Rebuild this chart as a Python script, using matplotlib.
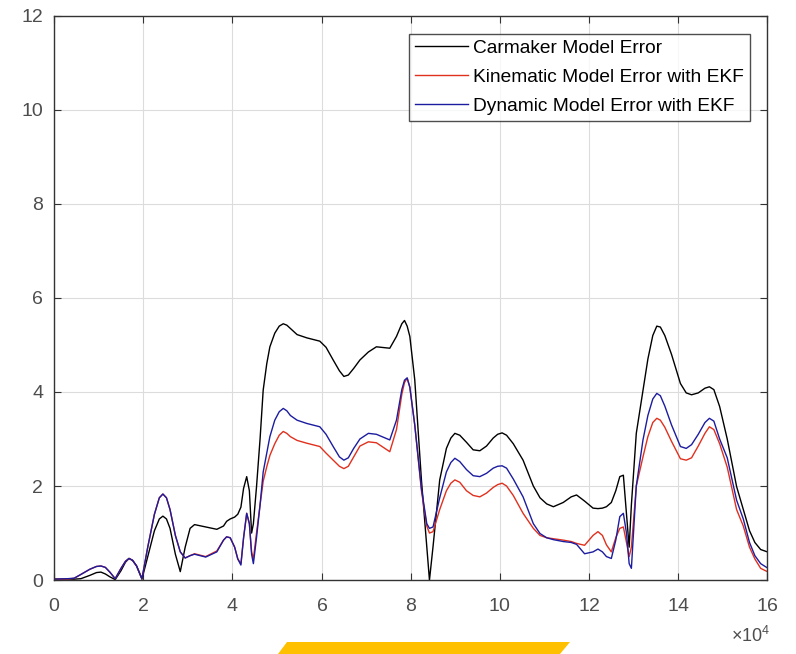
import numpy as np
import matplotlib.pyplot as plt
from matplotlib.patches import Polygon

plt.rcParams['font.family'] = ['Liberation Sans', 'DejaVu Sans']
plt.rcParams['mathtext.fontset'] = 'custom'
plt.rcParams['mathtext.rm'] = 'Liberation Sans'

# sample positions (in units of 1e4) and error values
x = [0.0, 0.3, 0.45, 0.6, 0.8, 0.95, 1.05, 1.15, 1.25, 1.37, 1.5, 1.6, 1.68,
     1.76, 1.85, 1.97, 2.1, 2.25, 2.36, 2.44, 2.52, 2.6, 2.72, 2.83, 2.94,
     3.05, 3.15, 3.4, 3.65, 3.8, 3.87, 3.95, 4.05, 4.12, 4.19, 4.25, 4.32,
     4.38, 4.43, 4.47, 4.54, 4.62, 4.69, 4.77, 4.84, 4.95, 5.05, 5.14, 5.22,
     5.3, 5.45, 5.67, 5.96, 6.1, 6.26, 6.4, 6.5, 6.6, 6.72, 6.86, 7.05, 7.23,
     7.53, 7.68, 7.8, 7.86, 7.92, 7.98, 8.09, 8.24, 8.36, 8.42, 8.5, 8.65,
     8.8, 8.9, 8.99, 9.1, 9.25, 9.4, 9.55, 9.7, 9.85, 9.95, 10.05, 10.15,
     10.3, 10.52, 10.75, 10.9, 11.05, 11.2, 11.42, 11.6, 11.72, 11.9, 12.09,
     12.2, 12.3, 12.39, 12.5, 12.6, 12.69, 12.77, 12.84, 12.9, 12.95, 13.06,
     13.21, 13.32, 13.43, 13.52, 13.6, 13.7, 13.85, 14.05, 14.18, 14.3,
     14.45, 14.6, 14.7, 14.8, 14.93, 15.1, 15.31, 15.46, 15.6, 15.72, 15.85,
     16.0]

carmaker = [0.02, 0.02, 0.02, 0.03, 0.10, 0.16, 0.17, 0.13, 0.07, 0.01, 0.2,
            0.38, 0.46, 0.42, 0.3, 0.02, 0.5, 1.05, 1.3, 1.36, 1.3, 1.1, 0.55,
            0.18, 0.7, 1.1, 1.18, 1.13, 1.08, 1.15, 1.25, 1.3, 1.34, 1.4, 1.55,
            1.95, 2.2, 1.9, 1.0, 1.2, 1.98, 3.0, 4.04, 4.6, 4.96, 5.25, 5.4,
            5.45, 5.42, 5.35, 5.22, 5.15, 5.08, 4.95, 4.68, 4.45, 4.33, 4.36,
            4.5, 4.68, 4.85, 4.96, 4.93, 5.18, 5.45, 5.52, 5.4, 5.18, 4.26,
            2.13, 0.71, 0.0, 0.71, 2.13, 2.8, 3.02, 3.12, 3.08, 2.93, 2.77,
            2.75, 2.85, 3.02, 3.1, 3.13, 3.08, 2.9, 2.55, 2.0, 1.75, 1.62,
            1.56, 1.65, 1.77, 1.81, 1.68, 1.53, 1.52, 1.53, 1.56, 1.65, 1.9,
            2.2, 2.23, 1.4, 0.7, 1.6, 3.12, 4.04, 4.7, 5.2, 5.4, 5.38, 5.2,
            4.8, 4.18, 3.98, 3.94, 3.98, 4.08, 4.11, 4.05, 3.69, 3.0, 1.99,
            1.5, 1.05, 0.8, 0.65, 0.6]

kinematic = [0.02, 0.02, 0.04, 0.12, 0.23, 0.29, 0.30, 0.27, 0.17, 0.03,
             0.25, 0.4, 0.46, 0.42, 0.3, 0.03, 0.7, 1.4, 1.75, 1.83, 1.75,
             1.5, 0.95, 0.6, 0.47, 0.52, 0.56, 0.5, 0.62, 0.85, 0.92, 0.9,
             0.7, 0.45, 0.35, 0.9, 1.42, 1.2, 0.6, 0.45, 1.0, 1.6, 2.1, 2.41,
             2.65, 2.9, 3.08, 3.16, 3.12, 3.05, 2.97, 2.91, 2.84, 2.7, 2.55,
             2.42, 2.37, 2.42, 2.62, 2.85, 2.94, 2.92, 2.73, 3.2, 3.95, 4.2,
             4.29, 4.1, 3.3, 1.9, 1.15, 1.0, 1.03, 1.5, 1.9, 2.06, 2.13, 2.08,
             1.9, 1.8, 1.77, 1.85, 1.97, 2.03, 2.06, 2.0, 1.8, 1.42, 1.1,
             0.95, 0.9, 0.88, 0.85, 0.82, 0.78, 0.74, 0.95, 1.03, 0.95, 0.75,
             0.6, 0.9, 1.1, 1.13, 0.8, 0.5, 0.7, 2.0, 2.62, 3.05, 3.35, 3.44,
             3.4, 3.25, 2.95, 2.58, 2.55, 2.6, 2.85, 3.12, 3.26, 3.2, 2.9,
             2.4, 1.5, 1.15, 0.7, 0.45, 0.25, 0.18]

dynamic = [0.02, 0.03, 0.04, 0.12, 0.23, 0.29, 0.30, 0.27, 0.17, 0.03, 0.25,
           0.4, 0.46, 0.42, 0.3, 0.03, 0.7, 1.4, 1.75, 1.83, 1.75, 1.5, 0.95,
           0.6, 0.47, 0.52, 0.55, 0.49, 0.6, 0.85, 0.92, 0.9, 0.7, 0.45, 0.32,
           0.9, 1.42, 1.2, 0.55, 0.35, 0.9, 1.6, 2.3, 2.7, 3.05, 3.4, 3.58,
           3.65, 3.6, 3.5, 3.4, 3.33, 3.26, 3.1, 2.84, 2.62, 2.55, 2.6, 2.8,
           3.0, 3.12, 3.1, 2.98, 3.4, 4.05, 4.25, 4.3, 4.1, 3.3, 1.95, 1.2,
           1.1, 1.13, 1.75, 2.3, 2.5, 2.59, 2.52, 2.35, 2.22, 2.2, 2.27, 2.38,
           2.42, 2.43, 2.38, 2.15, 1.77, 1.2, 0.99, 0.9, 0.86, 0.82, 0.8, 0.76,
           0.56, 0.6, 0.66, 0.6, 0.5, 0.46, 0.85, 1.35, 1.42, 1.0, 0.35, 0.25,
           2.0, 2.98, 3.5, 3.85, 3.97, 3.92, 3.7, 3.3, 2.84, 2.8, 2.88, 3.1,
           3.35, 3.44, 3.38, 3.0, 2.6, 1.7, 1.3, 0.8, 0.52, 0.35, 0.26]

xs = np.array(x) * 1e4

fig = plt.figure(figsize=(7.96, 6.54), dpi=100)
ax = fig.add_axes([0.068, 0.113, 0.896, 0.863])

ax.plot(xs, carmaker, color='black', lw=1.0, label='Carmaker Model Error')
ax.plot(xs, kinematic, color='#e0301e', lw=1.0, label='Kinematic Model Error with EKF')
ax.plot(xs, dynamic, color='#1c1ca0', lw=1.0, label='Dynamic Model Error with EKF')

ax.set_xlim(0, 16e4)
ax.set_ylim(0, 12)
ax.set_xticks(np.arange(0, 16.1e4, 2e4))
ax.set_yticks(np.arange(0, 13, 2))
ax.ticklabel_format(axis='x', style='sci', scilimits=(4, 4), useMathText=True)
ax.xaxis.get_offset_text().set_visible(False)
fig.text(0.968, 0.012, r'$\times10^{4}$', ha='right', va='bottom',
         fontsize=13, color='#4d4d4d')

ax.grid(True, color='#dcdcdc', lw=0.8)
ax.tick_params(direction='in', top=True, right=True, labelsize=14,
               labelcolor='#4d4d4d', color='#333333', length=5)
ax.tick_params(axis='x', pad=13)
ax.tick_params(axis='y', pad=8)
for s in ax.spines.values():
    s.set_color('#333333')
    s.set_linewidth(1.0)

leg = ax.legend(loc='upper right', bbox_to_anchor=(0.975, 0.968), fontsize=13.8,
                frameon=True, fancybox=False, edgecolor='#222222',
                handlelength=2.75, handletextpad=0.3, borderaxespad=0,
                labelspacing=0.62, borderpad=0.28)
leg.get_frame().set_linewidth(1.0)

# yellow band along the bottom edge
pts = [(287, 642), (570, 642), (560, 654), (278, 654)]
fig.patches.append(Polygon([(px / 796, 1 - py / 654) for px, py in pts],
                           closed=True, transform=fig.transFigure,
                           color='#ffc000', lw=0))

fig.savefig('out.png', dpi=100)
